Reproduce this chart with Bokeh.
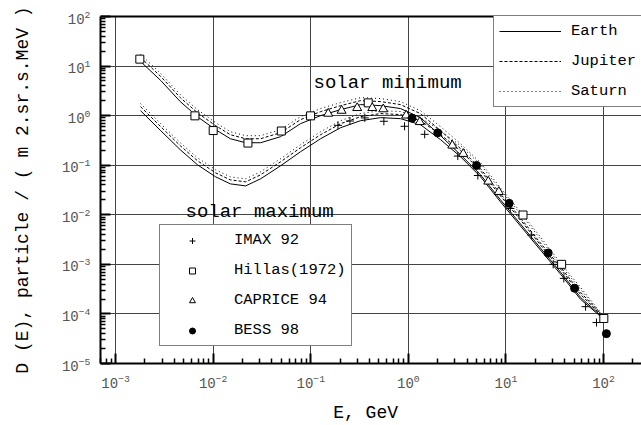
import math
from bokeh.plotting import figure
from bokeh.models import Legend, LegendItem, Label, FixedTicker, LogAxis, Range1d
from bokeh.embed import file_html
from bokeh.resources import INLINE

# ---------------- data ----------------
# energy grid of the model curves, GeV
E_curve = [0.0018, 0.0029, 0.0046, 0.0069, 0.0106, 0.015, 0.0215, 0.0306, 0.049, 0.0785,
           0.126, 0.202, 0.324, 0.52, 0.83, 1.33, 2.14, 3.43, 5.5, 8.8,
           14.1, 22.6, 36.3, 58.0, 93.0, 100.0]

# solar minimum curves
earth_min = [12.4, 5.11, 1.92, 0.95, 0.52, 0.342, 0.284, 0.284, 0.376, 0.689,
             1.0, 1.32, 1.67, 1.59, 1.39, 0.911, 0.394, 0.162, 0.0640, 0.0200,
             0.00651, 0.00213, 6.95e-4, 2.17e-4, 9.37e-5, 8.1e-5]
jupiter_min = [14.9, 6.16, 2.31, 1.14, 0.627, 0.412, 0.342, 0.342, 0.453, 0.830,
               1.205, 1.59, 2.01, 1.92, 1.67, 1.10, 0.497, 0.215, 0.0845, 0.0264,
               0.00861, 0.00269, 8.77e-4, 2.74e-4, 1.03e-4, 8.1e-5]
saturn_min = [17.2, 7.08, 2.66, 1.32, 0.721, 0.474, 0.394, 0.394, 0.521, 0.955,
              1.39, 1.83, 2.31, 2.21, 1.92, 1.26, 0.599, 0.271, 0.112, 0.0349,
              0.0114, 0.00356, 0.00106, 3.45e-4, 1.08e-4, 8.1e-5]

# solar maximum curves
earth_max = [1.26, 0.497, 0.205, 0.102, 0.0582, 0.0420, 0.0383, 0.0531, 0.0973, 0.187,
             0.342, 0.571, 0.792, 0.911, 0.870, 0.657, 0.327, 0.148, 0.0582, 0.0182,
             0.00593, 0.00194, 6.33e-4, 1.98e-4, 8.94e-5, 8.0e-5]
jupiter_max = [1.52, 0.599, 0.247, 0.123, 0.0701, 0.0506, 0.0462, 0.0640, 0.117, 0.225,
               0.412, 0.688, 0.954, 1.10, 1.05, 0.792, 0.413, 0.196, 0.0770, 0.0240,
               0.00785, 0.00245, 8.0e-4, 2.49e-4, 9.8e-5, 8.0e-5]
saturn_max = [1.75, 0.689, 0.284, 0.141, 0.0807, 0.0582, 0.0531, 0.0736, 0.135, 0.259,
              0.474, 0.791, 1.10, 1.26, 1.21, 0.911, 0.497, 0.247, 0.102, 0.0318,
              0.0104, 0.00324, 9.63e-4, 3.15e-4, 1.03e-4, 8.0e-5]

# measurements
imax_E = [0.190, 0.252, 0.358, 0.561, 0.914, 1.47, 3.21, 5.15, 11.1, 18.2, 30.5, 39.2, 65.5, 84.7]
imax_D = [0.637, 0.78, 0.90, 0.77, 0.61, 0.42, 0.153, 0.062, 0.0134, 0.0039, 1.0e-3, 5.2e-4, 1.4e-4, 6.7e-5]

hillas_E = [0.00177, 0.0065, 0.010, 0.0227, 0.0499, 0.0995, 0.388, 14.96, 37.2, 100.7]
hillas_D = [13.8, 0.99, 0.50, 0.28, 0.49, 0.99, 1.81, 0.0099, 1.0e-3, 8.1e-5]

caprice_E = [0.151, 0.207, 0.299, 0.427, 0.553, 0.95, 1.31, 2.82, 3.65, 6.59, 8.45]
caprice_D = [1.10, 1.26, 1.43, 1.43, 1.35, 1.01, 0.745, 0.25, 0.17, 0.047, 0.029]

bess_E = [1.09, 2.0, 5.0, 10.8, 27.1, 50.5, 107.0]
bess_D = [0.89, 0.45, 0.099, 0.017, 1.7e-3, 3.3e-4, 4.0e-5]

x_major = [1e-3, 1e-2, 1e-1, 1e0, 1e1, 1e2]
y_major = [1e-5, 1e-4, 1e-3, 1e-2, 1e-1, 1e0, 1e1, 1e2]

x_title = "E,  GeV"
y_title = "D (E), particle / ( m 2.sr.s.MeV )"

# ---------------- figure ----------------
XLO, XHI = 7.0e-4, 245.0
YLO, YHI = 1e-5, 1e2
FONT = "Liberation Mono"
FL, FR, FT, FB = 100, 641, 18, 364   # frame edges in picture pixels

p = figure(width=641, height=425, x_axis_type="log", y_axis_type="log",
           x_range=Range1d(XLO, XHI), y_range=Range1d(YLO, YHI),
           output_backend="svg", toolbar_location=None,
           min_border_left=FL, min_border_right=0, min_border_top=FT - 2,
           min_border_bottom=425 - FB,
           background_fill_color="white", border_fill_color="white")
p.outline_line_color = None


def px_x(px):
    a, b = math.log10(XLO), math.log10(XHI)
    return 10 ** (a + (px - FL) / (FR - FL) * (b - a))


def px_y(py):
    a, b = math.log10(YLO), math.log10(YHI)
    return 10 ** (b - (py - FT) / (FB - FT) * (b - a))


minor = [k * 10.0 ** n for n in range(-5, 3) for k in range(2, 10)]
for ax, ticks in ((p.xaxis[0], x_major), (p.yaxis[0], y_major)):
    ax.ticker = FixedTicker(ticks=ticks, minor_ticks=minor)
    ax.axis_line_width = 2
    ax.axis_line_color = "black"
    ax.major_tick_in = 10
    ax.major_tick_out = 0
    ax.minor_tick_in = 5
    ax.minor_tick_out = 0
    ax.major_tick_line_width = 2
    ax.minor_tick_line_width = 1.5
    ax.major_label_text_font = FONT
    ax.major_label_text_font_size = "14px"
    ax.major_label_text_color = "#555555"
    ax.major_label_standoff = 10
    ax.axis_label_text_font = FONT
    ax.axis_label_text_font_size = "18px"
    ax.axis_label_text_font_style = "normal"
    ax.axis_label_text_color = "black"

p.xaxis[0].axis_label = x_title
p.xaxis[0].axis_label_standoff = 12
p.yaxis[0].axis_label = y_title
p.yaxis[0].axis_label_standoff = 26

top_axis = LogAxis(ticker=FixedTicker(ticks=[]), axis_line_width=2, axis_line_color="black",
                   major_tick_line_color=None, minor_tick_line_color=None,
                   major_label_text_color=None)
p.add_layout(top_axis, "above")

p.xgrid.grid_line_color = "#444444"
p.ygrid.grid_line_color = "#444444"
p.xgrid.grid_line_width = 1
p.ygrid.grid_line_width = 1

# ---------------- curves ----------------
r_e = p.line(E_curve, earth_min, line_color="black", line_width=1)
r_j = p.line(E_curve, jupiter_min, line_color="black", line_width=1, line_dash="3 2")
r_s = p.line(E_curve, saturn_min, line_color="black", line_width=1, line_dash="1 3")
p.line(E_curve, earth_max, line_color="black", line_width=1)
p.line(E_curve, jupiter_max, line_color="black", line_width=1, line_dash="3 2")
p.line(E_curve, saturn_max, line_color="black", line_width=1, line_dash="1 3")

# ---------------- points ----------------
r_imax = p.scatter(imax_E, imax_D, marker="cross", size=8, line_color="black", line_width=1)
r_hil = p.scatter(hillas_E, hillas_D, marker="square", size=8, fill_color="white",
                  line_color="black", line_width=1)
r_cap = p.scatter(caprice_E, caprice_D, marker="triangle", size=9, fill_color="white",
                  line_color="black", line_width=1)
r_bes = p.scatter(bess_E, bess_D, marker="circle", size=8, fill_color="black",
                  line_color="black")

# ---------------- legends ----------------
leg1 = Legend(items=[LegendItem(label="Earth", renderers=[r_e]),
                     LegendItem(label="Jupiter", renderers=[r_j]),
                     LegendItem(label="Saturn", renderers=[r_s])],
              location=(493 - FL, FB - 108), margin=0, padding=5, spacing=10,
              glyph_width=62, glyph_height=20, label_height=20, label_standoff=10,
              label_text_font=FONT, label_text_font_size="15.5px", label_text_color="black",
              border_line_color="black", border_line_width=1.5,
              background_fill_color="white", background_fill_alpha=1.0)
leg2 = Legend(items=[LegendItem(label="IMAX 92", renderers=[r_imax]),
                     LegendItem(label="Hillas(1972)", renderers=[r_hil]),
                     LegendItem(label="CAPRICE 94", renderers=[r_cap]),
                     LegendItem(label="BESS 98", renderers=[r_bes])],
              location=(159 - FL, FB - 347), margin=0, padding=5, spacing=10,
              glyph_width=54, glyph_height=15, label_height=20, label_standoff=15,
              label_text_font=FONT, label_text_font_size="15.5px", label_text_color="black",
              border_line_color="black", border_line_width=1.5,
              background_fill_color="white", background_fill_alpha=1.0)
p.add_layout(leg1, "center")
p.add_layout(leg2, "center")

# ---------------- in-plot texts ----------------
for txt, px, py in (("solar minimum", 313, 84), ("solar maximum", 185, 213)):
    p.add_layout(Label(x=px_x(px), y=px_y(py), text=txt, text_font=FONT,
                       text_font_size="19px", text_color="black",
                       text_align="left", text_baseline="alphabetic"))

open("out.html", "w").write(file_html(p, INLINE))
